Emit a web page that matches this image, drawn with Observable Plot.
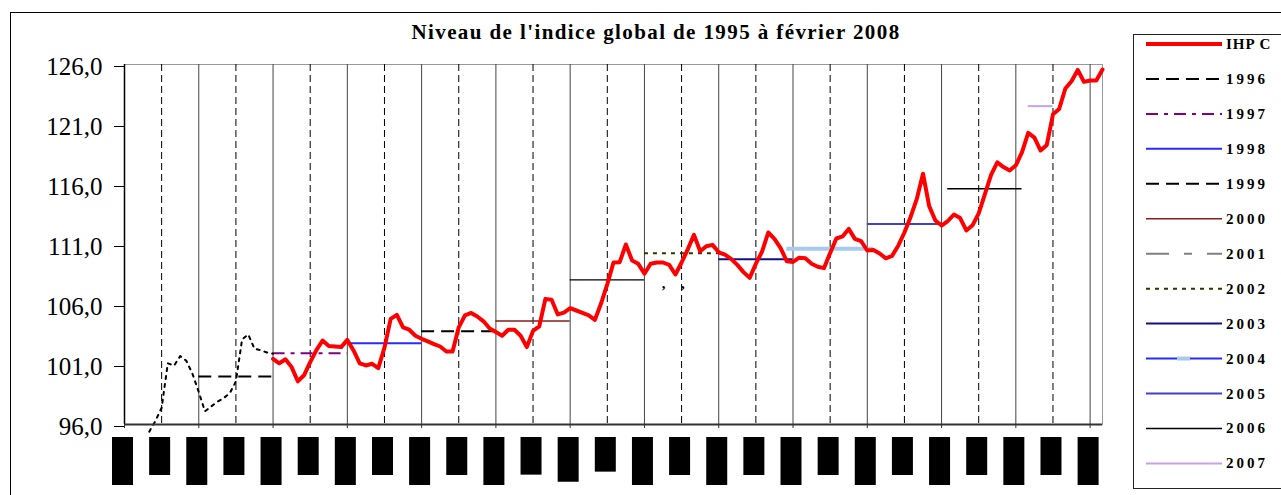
<!DOCTYPE html>
<html><head><meta charset="utf-8">
<script src="https://cdn.jsdelivr.net/npm/d3@7"></script>
<script src="https://cdn.jsdelivr.net/npm/@observablehq/plot@0.6"></script>
<style>
html,body{margin:0;padding:0;background:#fff;overflow:hidden;}
#wrap{position:relative;width:1281px;height:495px;overflow:hidden;background:#fff;}
#chart{position:absolute;left:0;top:0;}
#overlay{position:absolute;left:0;top:0;pointer-events:none;}
</style></head>
<body><div id="wrap"><div id="chart"></div><svg id="overlay" width="1281" height="495"></svg></div>
<script>
const serif = "'Liberation Serif','Times New Roman',serif";
const chartTitle = "Niveau de l'indice global de 1995 à février 2008";

// x positions are months counted from January 1995
const yTicks = [96, 101, 106, 111, 116, 121, 126];
const yearTicks = [0, 12, 24, 36, 48, 60, 72, 84, 96, 108, 120, 132, 144, 156];
const halfTicks = [6, 18, 30, 42, 54, 66, 78, 90, 102, 114, 126, 138, 150];

// IHPC monthly index, first point at month 24 (January 1997)
const ihpcStart = 24;
const ihpc = [
  101.47, 101.1, 101.44, 100.78, 99.6, 100.1, 101.2, 102.2, 103.0, 102.55, 102.5, 102.45,
  103.05, 102.17, 101.1, 100.92, 101.06, 100.7, 102.4, 104.8, 105.14, 104.1, 103.9, 103.4,
  103.14, 102.93, 102.7, 102.5, 102.08, 102.08, 104.1, 105.1, 105.3, 105.0, 104.6, 104.0,
  103.7, 103.4, 103.9, 103.9, 103.4, 102.45, 103.8, 104.17, 106.47, 106.39, 105.17, 105.33,
  105.69, 105.5, 105.3, 105.1, 104.72, 106.1, 107.7, 109.5, 109.53, 111.0, 109.67, 109.39,
  108.56, 109.4, 109.5, 109.5, 109.3, 108.5, 109.5, 110.6, 111.8, 110.44, 110.85, 110.97,
  110.35, 110.15, 109.8, 109.3, 108.7, 108.22, 109.4, 110.4, 112.0, 111.47, 110.7, 109.6,
  109.55, 109.9, 109.85, 109.4, 109.15, 109.03, 110.3, 111.5, 111.67, 112.3, 111.47, 111.28,
  110.5, 110.55, 110.25, 109.85, 110.05, 110.9, 112.0, 113.3, 114.8, 116.9, 114.2, 113.0,
  112.58, 112.95, 113.5, 113.2, 112.17, 112.6, 113.6, 115.2, 116.8, 117.85, 117.45, 117.17,
  117.6, 118.7, 120.3, 119.9, 118.83, 119.3, 121.85, 122.3, 124.0, 124.6, 125.55, 124.55,
  124.67, 124.67, 125.58
];

// earlier dotted series, first point at month 4
const earlyStart = 4;
const early = [95.4, 96.3, 97.4, 101.1, 100.9, 101.7, 101.3, 100.2, 98.7, 97.1, 97.5, 97.9,
  98.2, 98.6, 99.6, 103.1, 103.5, 102.3, 102.2, 102.0, 101.9];

// yearly average segments
const avgYears = ["1996","1997","1998","1999","2000","2001","2002","2003","2004","2005","2006","2007"];
const avgFrom  = [12, 24, 36, 48, 60, 72, 84, 96, 107, 120, 133, 146];
const avgTo    = [24, 36, 48, 60, 72, 84, 96, 108, 121, 132, 145, 150];
const avgValue = [100.0, 101.94, 102.78, 103.78, 104.63, 108.06, 110.28, 109.78, 110.64, 112.7, 115.64, 122.53];

// legend
const legendLabels = ["IHP C","1996","1997","1998","1999","2000","2001","2002","2003","2004","2005","2006","2007"];

// stray glyphs under the 2002 segment
const strayMarks = [{m: 87.1, v: 107.75}, {m: 90.2, v: 107.75}];

// blacked-out tick labels under the axis (bottom, in index units)
const tickLabelAt = [0,6,12,18,24,30,36,42,48,54,60,66,72,78,84,90,96,102,108,114,120,126,132,138,144,150,156];
const tickLabelLow = [90.92,91.75,90.92,91.75,90.92,91.75,90.92,91.75,90.92,91.75,90.92,91.78,91.19,92.03,
  90.92,91.75,90.92,91.75,90.92,91.75,90.92,91.75,90.92,91.75,90.92,91.75,90.92];

const styles = {
  "IHP C": {stroke: "#ff0000", width: 4},
  "1996": {stroke: "#000000", width: 2, dash: "13,7"},
  "1997": {stroke: "#800080", width: 2, dash: "12,6,4,6"},
  "1998": {stroke: "#2a2aff", width: 2},
  "1999": {stroke: "#000000", width: 2, dash: "13,7"},
  "2000": {stroke: "#8b1a1a", width: 1.5},
  "2001": {stroke: "#808080", width: 2, dash: "23,15,8,15"},
  "2002": {stroke: "#333300", width: 2, dash: "4,5"},
  "2003": {stroke: "#10108a", width: 2},
  "2004": {stroke: "#2a2aff", width: 2},
  "2005": {stroke: "#4040cc", width: 2},
  "2006": {stroke: "#000000", width: 1.5},
  "2007": {stroke: "#c8a0f0", width: 2}
};
// how the averages are drawn inside the plot
const chartStyles = Object.assign({}, styles, {
  "2001": {stroke: "#000000", width: 1.2},
  "2004": {stroke: "#a6caf0", width: 4}
});

const ihpcData = ihpc.map((v, i) => ({m: ihpcStart + i, v}));
const earlyData = early.map((v, i) => ({m: earlyStart + i, v}));
const avgData = avgYears.map((y, i) => ({year: y, from: avgFrom[i], to: avgTo[i], v: avgValue[i]}));
const tickLabelData = tickLabelAt.map((m, i) => ({m, low: tickLabelLow[i]}));

const avgMarks = avgData.map(d => {
  const s = chartStyles[d.year];
  return Plot.ruleY([d], {y: "v", x1: "from", x2: "to", stroke: s.stroke, strokeWidth: s.width,
    strokeDasharray: s.dash || null});
});

const plot = Plot.plot({
  width: 1281, height: 495,
  marginLeft: 124, marginRight: 179, marginTop: 64, marginBottom: 71,
  x: {domain: [0, 158], label: null},
  y: {domain: [96, 126], label: null},
  style: {fontFamily: serif, fontSize: "25px", color: "#000", background: "transparent", overflow: "visible"},
  marks: [
    Plot.frame({stroke: "#999"}),
    Plot.ruleX(halfTicks, {stroke: "#000", strokeWidth: 1, strokeDasharray: "7,4"}),
    Plot.ruleX(yearTicks.slice(1), {stroke: "#444", strokeWidth: 1}),
    ...avgMarks,
    Plot.line(earlyData, {x: "m", y: "v", stroke: "#000", strokeWidth: 2, strokeDasharray: "3,5"}),
    Plot.line(ihpcData, {x: "m", y: "v", stroke: "#ff0000", strokeWidth: 4, strokeLinejoin: "round"}),
    Plot.text(strayMarks, {x: "m", y: "v", text: () => ",", fontSize: 15, fontWeight: "bold", fill: "#000"}),
    Plot.ruleX([0], {stroke: "#000", strokeWidth: 1.5}),
    Plot.ruleY([96], {stroke: "#333", strokeWidth: 2}),
    Plot.axisX({ticks: yearTicks, tickSize: 4, tickFormat: () => "", stroke: "#333"}),
    Plot.axisY({ticks: yTicks, tickSize: 10, tickPadding: 12, dy: 2,
      tickFormat: d => d.toFixed(1).replace(".", ","), fill: "#000", stroke: "#000"}),
    Plot.ruleX(tickLabelData, {x: "m", y1: 96, y2: "low", insetTop: 13, stroke: "#000", strokeWidth: 21, dx: -2})
  ]
});
document.getElementById("chart").appendChild(plot);

// overlay: outer border, title, legend
const ov = d3.select("#overlay");
ov.append("rect").attr("x", 10.5).attr("y", 12.5).attr("width", 1300).attr("height", 500)
  .attr("fill", "none").attr("stroke", "#000").attr("stroke-width", 1);
ov.append("text").attr("x", 656).attr("y", 38.5).attr("text-anchor", "middle")
  .attr("font-family", serif).attr("font-weight", "bold").attr("font-size", 21)
  .attr("letter-spacing", 1.4).text(chartTitle);

ov.append("rect").attr("x", 1133.5).attr("y", 34.5).attr("width", 200).attr("height", 454)
  .attr("fill", "#fff").attr("stroke", "#222").attr("stroke-width", 1);
legendLabels.forEach((lab, i) => {
  const y = 44 + i * 34.95;
  const s = styles[lab];
  ov.append("line").attr("x1", 1146).attr("x2", 1222).attr("y1", y).attr("y2", y)
    .attr("stroke", s.stroke).attr("stroke-width", s.width).attr("stroke-dasharray", s.dash || null);
  if (lab === "2004") {
    ov.append("line").attr("x1", 1177).attr("x2", 1190).attr("y1", y).attr("y2", y)
      .attr("stroke", "#a6caf0").attr("stroke-width", 4);
  }
  ov.append("text").attr("x", 1226).attr("y", y + 5).attr("font-family", serif)
    .attr("font-weight", "bold").attr("font-size", 15)
    .attr("letter-spacing", lab === "IHP C" ? 1 : 3).text(lab);
});
</script></body></html>
